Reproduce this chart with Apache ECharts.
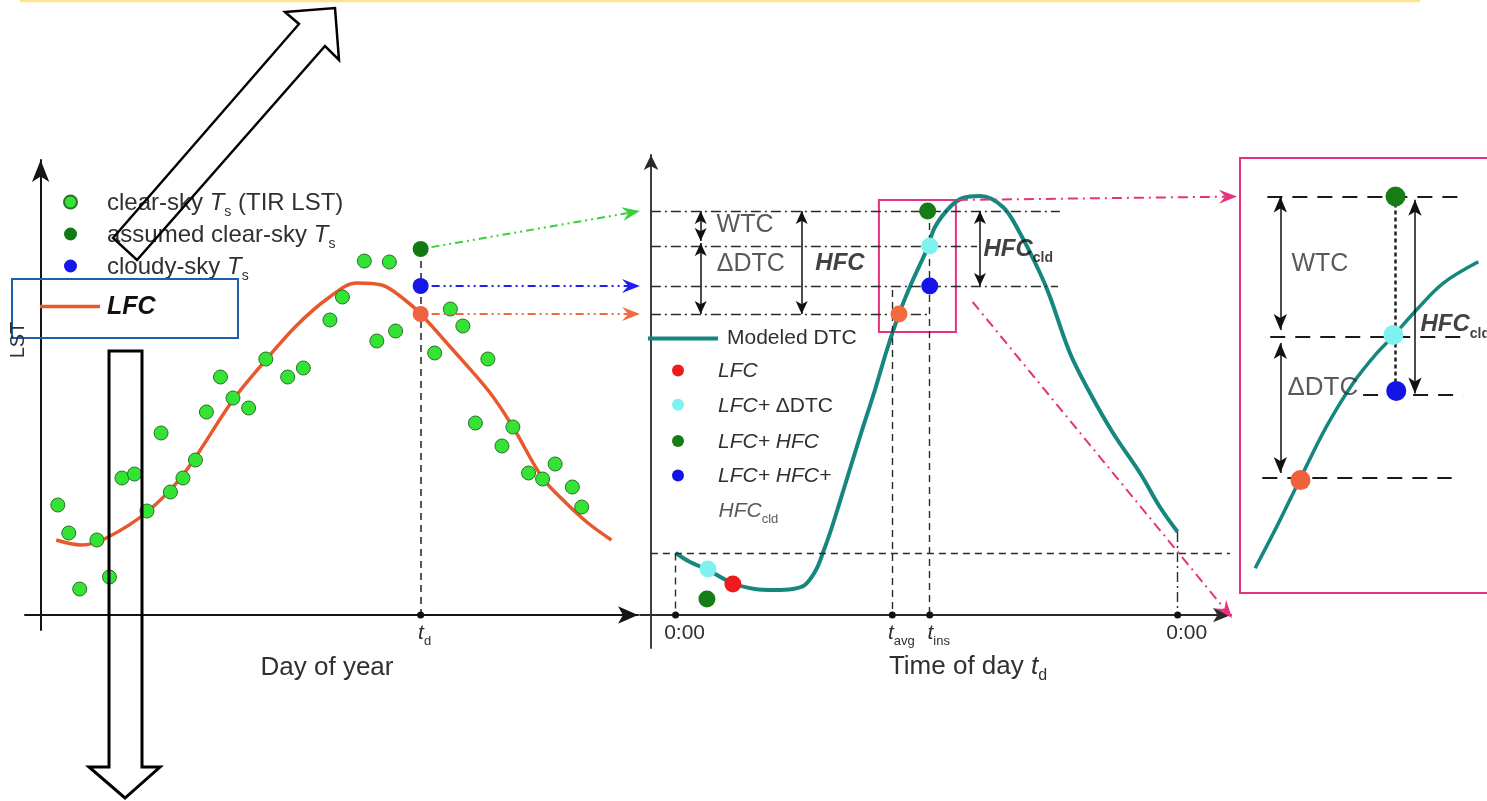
<!DOCTYPE html>
<html>
<head>
<meta charset="utf-8">
<script src="https://cdn.jsdelivr.net/npm/echarts@6/dist/echarts.min.js"></script>
<style>
  html, body { margin: 0; padding: 0; background: #ffffff; }
  #main { width: 1487px; height: 801px; }
</style>
</head>
<body>
<div id="main"></div>
<script>
// ---------------- Annual cycle (day of year vs LST) ----------------
const clearSkyDay = [11, 18, 25, 36, 44, 52, 60, 68, 77, 83, 91, 99, 106, 115, 123, 133, 144, 158, 168, 185,
                     193, 207, 215, 223, 227, 252, 262, 270, 278, 286, 295, 302, 312, 321, 329, 340, 346];
const clearSkyLST = [11.0, 8.2, 2.6, 7.5, 3.8, 13.7, 14.1, 10.4, 18.2, 12.3, 13.7, 15.5, 20.3, 23.8, 21.7, 20.7, 25.6, 23.8, 24.7, 29.5,
                     31.8, 35.4, 27.4, 35.3, 28.4, 26.2, 30.6, 28.9, 19.2, 25.6, 16.9, 18.8, 14.2, 13.6, 15.1, 12.8, 10.8];
const lfcDay = [10, 26, 42, 68, 91, 123, 144, 164, 184, 202, 218, 233, 243, 262, 287, 302, 321, 336, 350, 365];
const lfcLST = [7.5, 7.0, 7.7, 10.3, 14.0, 21.5, 25.5, 29.0, 31.7, 33.2, 33.0, 31.5, 30.1, 26.8, 22.3, 18.8, 13.7, 11.2, 9.2, 7.5];
const tdDay = 243;
const assumedClearLST = 36.6;
const cloudyLST = 32.9;
const lfcAtTd = 30.1;

// ---------------- Diurnal cycle (hour of day vs LST) ----------------
const dtcHour = [0, 0.69, 1.55, 2.70, 3.80, 4.70, 5.61, 6.18, 6.71, 7.09, 7.43, 8.10, 8.81, 9.53, 10.10, 10.68,
                 11.30, 12.02, 12.40, 13.12, 13.74, 14.55, 15.65, 16.46, 17.42, 17.90, 18.85, 19.81, 20.91, 22.20, 23.15, 24.0];
const dtcLST = [6.2, 5.3, 4.5, 3.2, 2.6, 2.5, 2.6, 3.0, 4.5, 6.5, 8.5, 13.0, 17.8, 22.5, 26.5, 30.1,
                33.3, 36.6, 38.8, 40.8, 41.7, 41.9, 40.8, 38.2, 34.2, 31.8, 26.2, 22.2, 18.2, 14.2, 10.8, 8.3];
const tAvg = 10.36;
const tIns = 12.15;
const levelLFC = 30.1;      // LFC
const levelLfcDtc = 36.9;   // LFC + ΔDTC
const levelCloudy = 32.9;   // LFC + HFC + HFC_cld
const levelHfc = 40.4;      // LFC + HFC
const nightStartLST = 6.15;
const nightEndLST = 8.3;
const hourTicks = [0, tAvg, tIns, 24];
const hourTickLabels = ['{n|0:00}', '{i|t}{s|avg}', '{i|t}{s|ins}', '{n|0:00}'];
const lowLFC = [2.74, 3.1];
const lowLfcDtc = [1.55, 4.6];
const lowLfcHfc = [1.50, 1.6];

// ---------------- Detail of the overpass window ----------------
const detailHour = [10.05, 10.35, 10.68, 11.04, 11.41, 11.74, 11.98, 12.29, 12.66, 13.15];
const detailLST = [26.90, 28.41, 30.17, 32.04, 33.62, 34.71, 35.37, 36.28, 37.25, 38.03];
const detailLevelLFC = 30.2;
const detailLevelDtc = 35.3;
const detailLevelCloudy = 33.2;
const detailLevelHfc = 40.4;

// ---------------- Styling helpers ----------------
const FONT = '"Liberation Sans", Arial, Helvetica, sans-serif';
const TXT = '#303030';
const TEAL = '#16877f';
const PINK = '#e6327f';

function richSet(size) {
  const sub = Math.round(size * 0.6);
  const base = { fontFamily: FONT, color: TXT, fontSize: size, lineHeight: size + 4, verticalAlign: 'top' };
  const s = { fontFamily: FONT, color: TXT, fontSize: sub, lineHeight: sub, verticalAlign: 'bottom',
              padding: [Math.round(size * 0.8 + 2), 0, 0, 0] };
  return {
    n: base,
    i: Object.assign({}, base, { fontStyle: 'italic' }),
    b: Object.assign({}, base, { fontStyle: 'italic', fontWeight: 'bold', color: '#111' }),
    s: s,
    bs: Object.assign({}, s, { fontWeight: 'bold', color: '#111' })
  };
}

const dashed = [7, 5];
const dashDot = [10, 4, 2, 4];
function thin(type) { return { color: '#2a2a2a', width: 1.4, type: type }; }
const arrowLine = { color: '#111', width: 1.5, type: 'solid' };

function seg(a, b, style, arrows, size) {
  const sym = arrows ? 'arrow' : 'none';
  const sz = size || [9, 13];
  return [
    { coord: a, symbol: sym, symbolSize: sz, lineStyle: style },
    { coord: b, symbol: sym, symbolSize: sz }
  ];
}

function dot(color, extra) {
  return Object.assign({ color: color, opacity: 1 }, extra || {});
}

function noteSeries(xi, yi, notes) {
  return {
    type: 'scatter', xAxisIndex: xi, yAxisIndex: yi, silent: true, z: 20,
    symbol: 'circle', symbolSize: 1, itemStyle: { color: 'rgba(0,0,0,0)' },
    data: notes.map(n => ({
      value: n.at,
      label: { show: true, position: n.pos || 'inside', distance: 0, formatter: n.text,
               fontFamily: FONT, fontSize: n.size, color: TXT, rich: richSet(n.size) }
    }))
  };
}

const legendText = {
  'clear-sky Ts (TIR LST)': '{n|clear-sky }{i|T}{s|s}{n| (TIR LST)}',
  'assumed clear-sky Ts': '{n|assumed clear-sky }{i|T}{s|s}',
  'cloudy-sky Ts': '{n|cloudy-sky }{i|T}{s|s}',
  'LFC': '{b|LFC}',
  'Modeled DTC': '{n|Modeled DTC}',
  'LFC estimate': '{i|LFC}',
  'LFC+ ΔDTC': '{i|LFC+} {n|ΔDTC}',
  'LFC+ HFC': '{i|LFC+ HFC}',
  'LFC+ HFC+ HFCcld': '{i|LFC+ HFC+}'
};
const fmt = name => legendText[name] || name;

const yAxisHour = -1.18;   // where the diurnal LST axis crosses the time axis
const DOT_Z = 6;           // markers sit above the curves

const chart = echarts.init(document.getElementById('main'), null, { renderer: 'canvas' });

const option = {
  backgroundColor: '#ffffff',
  animation: false,
  grid: [
    { left: 25, top: 160, width: 613, height: 470, outerBoundsMode: 'none' },
    { left: 640, top: 155, width: 591, height: 493, outerBoundsMode: 'none' },
    { left: 1240, top: 158, width: 270, height: 435, outerBoundsMode: 'none', show: true,
      borderColor: PINK, borderWidth: 2, backgroundColor: 'rgba(0,0,0,0)' }
  ],
  xAxis: [
    { gridIndex: 0, type: 'value', min: -10, max: 382,
      name: 'Day of year', nameLocation: 'middle', nameGap: 23,
      nameTextStyle: { fontFamily: FONT, fontSize: 26, lineHeight: 30, color: TXT, padding: [0, 9, 0, 0] },
      axisLine: { show: true, onZero: true, symbol: ['none', 'arrow'], symbolSize: [13, 20],
                  lineStyle: { color: '#151515', width: 2 } },
      axisTick: { show: false }, axisLabel: { show: false }, splitLine: { show: false } },
    { gridIndex: 1, type: 'value', min: -1.7, max: 26.55,
      name: '{n|Time of day }{i|t}{s|d}', nameLocation: 'middle', nameGap: 6,
      nameTextStyle: { fontFamily: FONT, fontSize: 26, color: TXT, padding: [0, 0, 0, 65], rich: richSet(26) },
      axisLine: { show: true, onZero: true, symbol: ['none', 'arrow'], symbolSize: [11, 18],
                  lineStyle: { color: '#2a2a2a', width: 1.8 } },
      axisTick: { show: false }, axisLabel: { show: false }, splitLine: { show: false } },
    { gridIndex: 1, type: 'value', min: -11, max: 580,
      axisLine: { show: false }, axisTick: { show: false }, axisLabel: { show: false }, splitLine: { show: false } },
    { gridIndex: 2, type: 'value', min: 9.84, max: 13.59, show: false }
  ],
  yAxis: [
    { gridIndex: 0, type: 'value', min: -1.5, max: 45.5,
      axisLine: { show: true, onZero: true, symbol: ['none', 'arrow'], symbolSize: [13, 22],
                  lineStyle: { color: '#151515', width: 2 } },
      axisTick: { show: false }, axisLabel: { show: false }, splitLine: { show: false } },
    { gridIndex: 1, type: 'value', min: -3.3, max: 46,
      axisLine: { show: true, onZero: true, onZeroAxisIndex: 2, symbol: ['none', 'arrow'], symbolSize: [11, 15],
                  lineStyle: { color: '#2a2a2a', width: 1.8 } },
      axisTick: { show: false }, axisLabel: { show: false }, splitLine: { show: false } },
    { gridIndex: 2, type: 'value', min: 26, max: 41.8, show: false }
  ],
  legend: [
    { orient: 'vertical', left: 63, top: 184, padding: 0, itemWidth: 13, itemHeight: 13, itemGap: -3, icon: 'circle',
      selectedMode: false, data: ['clear-sky Ts (TIR LST)', 'assumed clear-sky Ts', 'cloudy-sky Ts'], formatter: fmt,
      textStyle: { fontFamily: FONT, fontSize: 24, color: TXT, padding: [6, 0, 0, 25], rich: richSet(24) } },
    { orient: 'vertical', left: 40, top: 295, padding: 0, itemWidth: 60, itemHeight: 3.5, selectedMode: false,
      data: [{ name: 'LFC', icon: 'rect' }], formatter: fmt,
      textStyle: { fontFamily: FONT, fontSize: 25, color: '#111', padding: [6, 0, 0, 2], rich: richSet(25) } },
    { orient: 'vertical', left: 648, top: 328, padding: 0, itemWidth: 70, itemHeight: 4, selectedMode: false,
      data: [{ name: 'Modeled DTC', icon: 'rect' }], formatter: fmt,
      textStyle: { fontFamily: FONT, fontSize: 21, color: TXT, padding: [4, 0, 0, 4], rich: richSet(21) } },
    { orient: 'vertical', left: 672, top: 361, padding: 0, itemWidth: 12, itemHeight: 12, itemGap: 13.3, icon: 'circle',
      selectedMode: false, data: ['LFC estimate', 'LFC+ ΔDTC', 'LFC+ HFC', 'LFC+ HFC+ HFCcld'], formatter: fmt,
      textStyle: { fontFamily: FONT, fontSize: 21, color: TXT, padding: [6, 0, 0, 29], rich: richSet(21) } }
  ],
  series: [
    // ----- annual cycle -----
    { name: 'LFC', type: 'line', xAxisIndex: 0, yAxisIndex: 0, smooth: 0.35, symbol: 'none',
      lineStyle: { color: '#e9582c', width: 3.5 }, itemStyle: dot('#e9582c'),
      data: lfcDay.map((d, i) => [d, lfcLST[i]]),
      markLine: { silent: true, label: { show: false }, emphasis: { disabled: true },
        data: [ seg([tdDay, assumedClearLST], [tdDay, 0], { color: '#222', width: 1.5, type: dashed }) ] } },
    { name: 'clear-sky Ts (TIR LST)', type: 'scatter', xAxisIndex: 0, yAxisIndex: 0, symbolSize: 14, z: DOT_Z,
      itemStyle: dot('#35e335', { borderColor: '#2b6f2b', borderWidth: 1 }),
      data: clearSkyDay.map((d, i) => [d, clearSkyLST[i]]) },
    { name: 'assumed clear-sky Ts', type: 'scatter', xAxisIndex: 0, yAxisIndex: 0, symbolSize: 16, z: DOT_Z,
      itemStyle: dot('#137a13'), data: [[tdDay, assumedClearLST]] },
    { name: 'cloudy-sky Ts', type: 'scatter', xAxisIndex: 0, yAxisIndex: 0, symbolSize: 16, z: DOT_Z,
      itemStyle: dot('#1717e8'), data: [[tdDay, cloudyLST]] },
    { name: 'LFC at td', type: 'scatter', xAxisIndex: 0, yAxisIndex: 0, symbolSize: 16, z: DOT_Z,
      itemStyle: dot('#ef6240'), data: [[tdDay, lfcAtTd]] },
    { name: 'td tick', type: 'scatter', xAxisIndex: 0, yAxisIndex: 0, symbolSize: 7, silent: true, z: DOT_Z,
      itemStyle: dot('#111'),
      data: [{ value: [tdDay, 0], label: { show: true, position: 'bottom', distance: 4, offset: [4, 0],
               formatter: '{i|t}{s|d}', rich: richSet(21) } }] },

    // ----- diurnal cycle -----
    { name: 'Modeled DTC', type: 'line', xAxisIndex: 1, yAxisIndex: 1, smooth: 0.35, symbol: 'none',
      lineStyle: { color: TEAL, width: 4 }, itemStyle: dot(TEAL),
      data: dtcHour.map((h, i) => [h, dtcLST[i]]),
      markArea: { silent: true, itemStyle: { color: 'rgba(0,0,0,0)', borderColor: PINK, borderWidth: 2 },
        data: [[{ coord: [9.72, 41.5] }, { coord: [13.40, 28.3] }]] },
      markLine: { silent: true, label: { show: false }, emphasis: { disabled: true },
        data: [
          seg([yAxisHour, levelHfc], [18.37, levelHfc], thin(dashDot)),
          seg([yAxisHour, levelLfcDtc], [14.41, levelLfcDtc], thin(dashDot)),
          seg([yAxisHour, levelCloudy], [18.28, levelCloudy], thin(dashDot)),
          seg([yAxisHour, levelLFC], [12.02, levelLFC], thin(dashDot)),
          seg([yAxisHour, nightStartLST], [26.5, nightStartLST], thin(dashed)),
          seg([0, nightStartLST], [0, 0], thin(dashed)),
          seg([tAvg, 32.5], [tAvg, 0], thin(dashed)),
          seg([tIns, levelHfc], [tIns, 0], thin(dashed)),
          seg([24, nightEndLST], [24, 0], thin(dashDot)),
          seg([1.20, levelHfc], [1.20, 37.4], arrowLine, true),
          seg([1.20, 37.2], [1.20, levelLFC], arrowLine, true),
          seg([6.03, levelHfc], [6.03, levelLFC], arrowLine, true),
          seg([14.55, levelHfc], [14.55, levelCloudy], arrowLine, true)
        ] } },
    { name: 'LFC at tavg', type: 'scatter', xAxisIndex: 1, yAxisIndex: 1, symbolSize: 17, z: DOT_Z,
      itemStyle: dot('#f26a3d'), data: [[10.68, levelLFC]] },
    { name: 'LFC estimate', type: 'scatter', xAxisIndex: 1, yAxisIndex: 1, symbolSize: 17, z: DOT_Z,
      itemStyle: dot('#ee1c1c'), data: [lowLFC] },
    { name: 'LFC+ ΔDTC', type: 'scatter', xAxisIndex: 1, yAxisIndex: 1, symbolSize: 17, z: DOT_Z,
      itemStyle: dot('#7ff1f1'), data: [lowLfcDtc, [tIns, levelLfcDtc]] },
    { name: 'LFC+ HFC', type: 'scatter', xAxisIndex: 1, yAxisIndex: 1, symbolSize: 17, z: DOT_Z,
      itemStyle: dot('#167d16'), data: [lowLfcHfc, [12.05, levelHfc]] },
    { name: 'LFC+ HFC+ HFCcld', type: 'scatter', xAxisIndex: 1, yAxisIndex: 1, symbolSize: 17, z: DOT_Z,
      itemStyle: dot('#1414e6'), data: [[tIns, levelCloudy]] },
    { name: 'time ticks', type: 'scatter', xAxisIndex: 1, yAxisIndex: 1, symbolSize: 7, silent: true, z: DOT_Z,
      itemStyle: dot('#111'),
      data: hourTicks.map((h, i) => ({ value: [h, 0],
        label: { show: true, position: 'bottom', distance: 4, offset: [9, 0],
                 formatter: hourTickLabels[i], rich: richSet(21) } })) },
    noteSeries(1, 1, [
      { at: [3.32, 38.8], text: '{n|WTC}', size: 25 },
      { at: [3.60, 34.9], text: '{n|ΔDTC}', size: 25 },
      { at: [7.86, 35.0], text: '{b|HFC}', size: 24 },
      { at: [14.69, 36.4], text: '{b|HFC}{bs|cld}', size: 24, pos: 'right' },
      { at: [2.03, 10.2], text: '{i|HFC}{s|cld}', size: 21, pos: 'right' }
    ]),

    // ----- detail view -----
    { name: 'Detail DTC', type: 'line', xAxisIndex: 3, yAxisIndex: 2, smooth: 0.35, symbol: 'none',
      lineStyle: { color: TEAL, width: 3.5 },
      data: detailHour.map((h, i) => [h, detailLST[i]]),
      markLine: { silent: true, label: { show: false }, emphasis: { disabled: true },
        data: [
          seg([10.22, detailLevelHfc], [12.87, detailLevelHfc], { color: '#1a1a1a', width: 2.2, type: [15, 10] }),
          seg([10.26, detailLevelDtc], [12.90, detailLevelDtc], { color: '#1a1a1a', width: 2.2, type: [15, 10] }),
          seg([11.55, detailLevelCloudy], [12.94, detailLevelCloudy], { color: '#1a1a1a', width: 2.2, type: [15, 10] }),
          seg([10.15, detailLevelLFC], [12.78, detailLevelLFC], { color: '#1a1a1a', width: 2.2, type: [15, 10] }),
          seg([12.0, detailLevelHfc], [12.0, detailLevelCloudy], { color: '#222', width: 2.5, type: [4, 3] }),
          seg([10.40, detailLevelHfc], [10.40, 35.55], arrowLine, true, [10, 16]),
          seg([10.40, 35.08], [10.40, 30.36], arrowLine, true, [10, 16]),
          seg([12.27, 40.28], [12.27, 33.25], arrowLine, true, [10, 16])
        ] } },
    { name: 'Detail points', type: 'scatter', xAxisIndex: 3, yAxisIndex: 2, symbolSize: 20, z: DOT_Z,
      data: [
        { value: [12.0, detailLevelHfc], itemStyle: dot('#167d16') },
        { value: [11.97, 35.37], itemStyle: dot('#7ff1f1') },
        { value: [12.01, 33.34], itemStyle: dot('#1414e6') },
        { value: [10.68, 30.1], itemStyle: dot('#f0603a') }
      ] },
    noteSeries(3, 2, [
      { at: [10.95, 37.89], text: '{n|WTC}', size: 25 },
      { at: [10.99, 33.37], text: '{n|ΔDTC}', size: 26 },
      { at: [12.34, 35.67], text: '{b|HFC}{bs|cld}', size: 24, pos: 'right' }
    ])
  ]
};

chart.setOption(option);

// ---------------- Connectors between the panels ----------------
const toAnnual = p => chart.convertToPixel({ xAxisIndex: 0, yAxisIndex: 0 }, p);
const toDiurnal = p => chart.convertToPixel({ xAxisIndex: 1, yAxisIndex: 1 }, p);
const toDetail = p => chart.convertToPixel({ xAxisIndex: 3, yAxisIndex: 2 }, p);

function arrowHead(tip, ang, color, len, half) {
  const c = Math.cos(ang), s = Math.sin(ang);
  const pts = [[0, 0], [-len, -half], [-len * 0.65, 0], [-len, half]]
    .map(([x, y]) => [tip[0] + x * c - y * s, tip[1] + x * s + y * c]);
  return { type: 'polygon', shape: { points: pts }, style: { fill: color }, z: 50, silent: true };
}
function connector(from, to, color, pattern, startGap) {
  const ang = Math.atan2(to[1] - from[1], to[0] - from[0]);
  const c = Math.cos(ang), s = Math.sin(ang);
  const g = startGap || 0;
  return [
    { type: 'line', silent: true, z: 50,
      shape: { x1: from[0] + g * c, y1: from[1] + g * s, x2: to[0] - 12 * c, y2: to[1] - 12 * s },
      style: { stroke: color, lineWidth: 2, lineDash: pattern } },
    arrowHead(to, ang, color, 18, 7)
  ];
}

const xLeftEdge = -1.7;
const detailEntry = toDetail([9.84, detailLevelHfc]);
const graphics = [].concat(
  connector(toAnnual([tdDay, assumedClearLST]), toDiurnal([xLeftEdge, levelHfc]), '#3ccf3c', [8, 4, 2, 4, 2, 4], 11),
  connector(toAnnual([tdDay, cloudyLST]), toDiurnal([xLeftEdge, levelCloudy]), '#2020ee', [8, 4, 2, 4, 2, 4], 11),
  connector(toAnnual([tdDay, lfcAtTd]), toDiurnal([xLeftEdge, levelLFC]), '#ee6a45', [8, 4, 2, 4, 2, 4], 11),
  connector(toDiurnal([13.40, 41.5]), [detailEntry[0] - 3, detailEntry[1]], PINK, [10, 5, 2, 5], 2),
  connector(toDiurnal([14.2, 31.3]), toDiurnal([26.6, -0.3]), PINK, [10, 5, 2, 5], 0)
);

// Overlay callouts: page rule, hollow block arrows and the LFC highlight frame
graphics.push(
  { type: 'line', silent: true, z: 60, shape: { x1: 20, y1: 1, x2: 1420, y2: 1 },
    style: { stroke: '#fde38a', lineWidth: 2.5 } },
  { type: 'polygon', silent: true, z: 60,
    shape: { points: [[113, 238], [299, 24], [285, 12], [335, 8], [339, 60], [325, 46], [137, 260]] },
    style: { fill: 'none', stroke: '#000', lineWidth: 2.5, lineJoin: 'miter' } },
  { type: 'polygon', silent: true, z: 60,
    shape: { points: [[109, 351], [142, 351], [142, 767], [160, 767], [125, 798], [89, 767], [109, 767]] },
    style: { fill: 'none', stroke: '#000', lineWidth: 3, lineJoin: 'miter' } },
  { type: 'rect', silent: true, z: 60, shape: { x: 12, y: 279, width: 226, height: 59 },
    style: { fill: 'none', stroke: '#1f5ea8', lineWidth: 2 } },
  { type: 'text', silent: true, z: 60, x: 18, y: 340, rotation: Math.PI / 2,
    style: { text: 'LST', font: '20px ' + FONT, fill: TXT, align: 'center', verticalAlign: 'middle' } }
);

chart.setOption({ graphic: graphics });
</script>
</body>
</html>
